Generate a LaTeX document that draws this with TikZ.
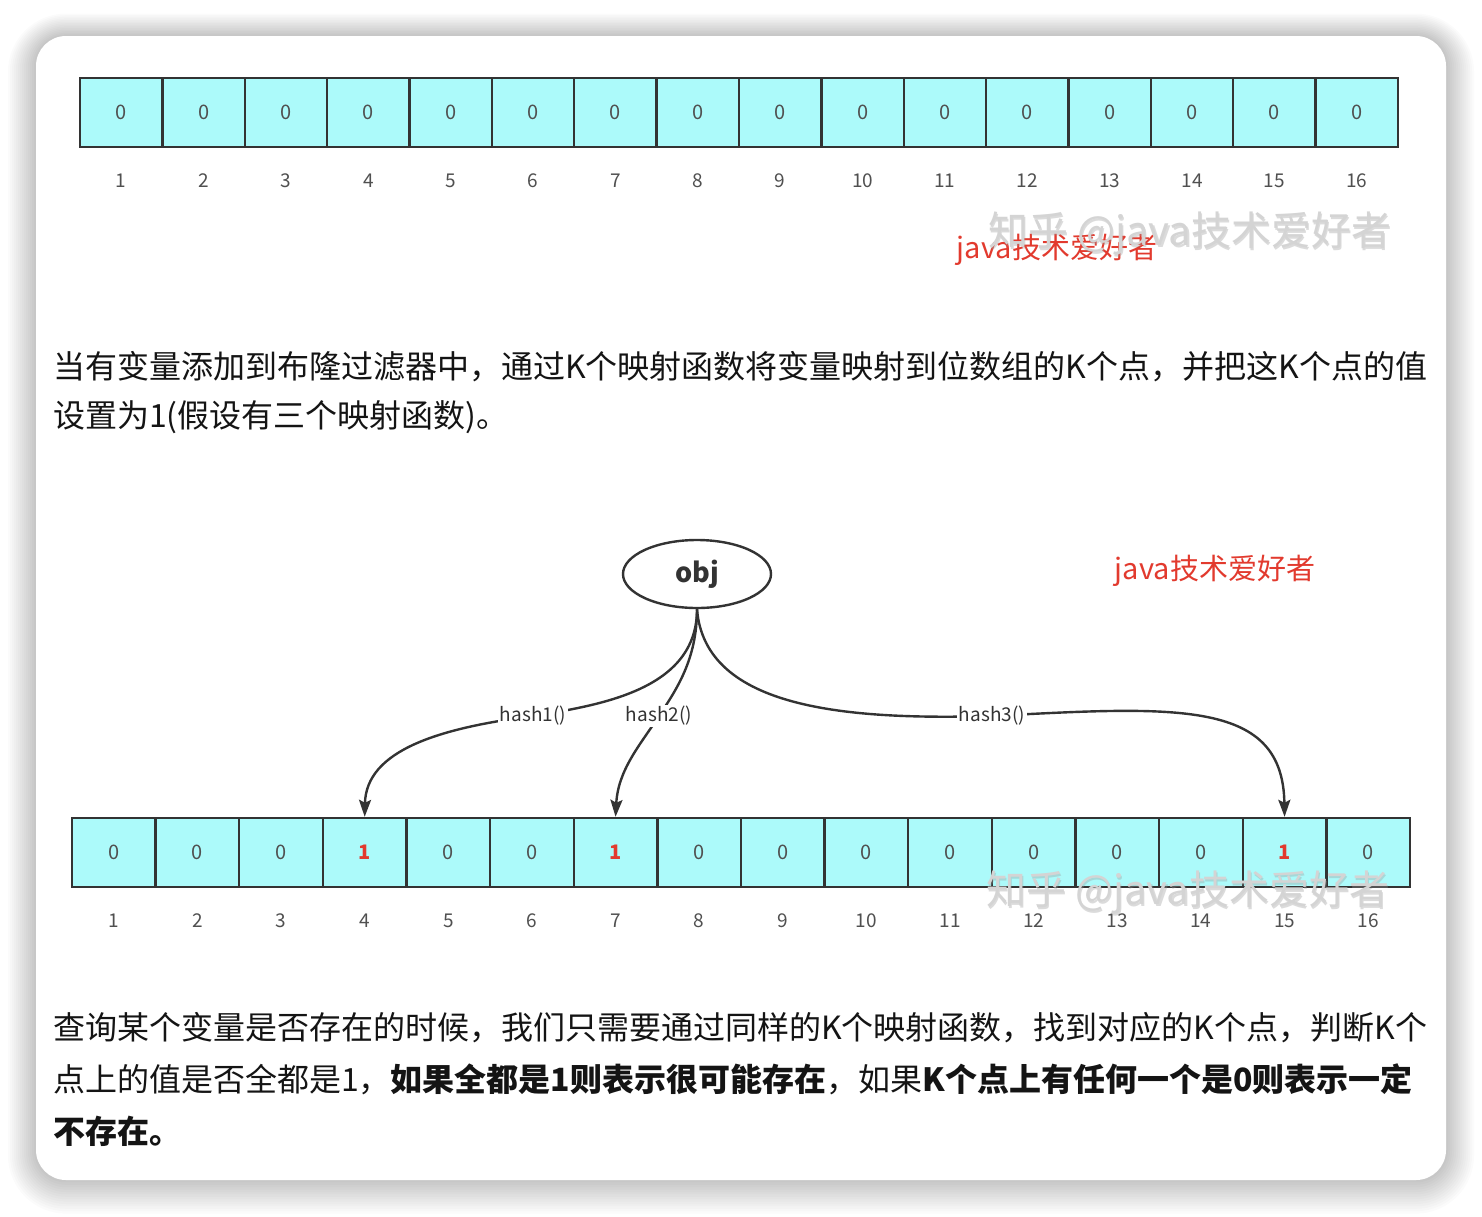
\documentclass[tikz,border=0pt]{standalone}
\usepackage{fontspec}
\setmainfont{Noto Sans CJK SC}
\usetikzlibrary{arrows.meta,shapes.geometric}
\definecolor{cellc}{RGB}{172,250,250}
\definecolor{edgec}{RGB}{51,51,51}
\definecolor{redt}{RGB}{226,58,46}
\definecolor{digitc}{RGB}{80,80,80}
\definecolor{txtc}{RGB}{20,20,20}
\definecolor{wmc}{RGB}{212,212,212}
\tikzset{
  cell/.style={draw=edgec, line width=2.4pt, fill=cellc, minimum height=69pt,
    inner sep=0pt, font=\fontsize{20}{20}\selectfont, text=digitc},
  idx/.style={inner sep=0pt, font=\fontsize{19}{19}\selectfont, text=digitc},
  lbl/.style={fill=white, inner sep=1.5pt, font=\fontsize{19}{19}\selectfont, text=edgec},
  conn/.style={draw=edgec, line width=2.4pt, -{Stealth[length=17pt,width=12pt,inset=3pt]}},
  para/.style={inner sep=0pt, anchor=west, font=\fontsize{32}{32}\selectfont, text=txtc},
  redlbl/.style={inner sep=0pt, font=\fontsize{29}{29}\selectfont, text=redt},
  wm/.style={inner sep=0pt, font=\fontsize{40}{40}\selectfont},
}
\begin{document}
\begin{tikzpicture}[x=1pt,y=-1pt]
\useasboundingbox (0,0) rectangle (1482,1216);
\fill[white] (0,0) rectangle (1482,1216);
% card shadow
\foreach \k in {1,...,14}{
  \pgfmathsetmacro\rr{30+2*\k}
  \fill[black,opacity=0.017,rounded corners=\rr pt]
    ({36-2*\k},{36-1.6*\k}) rectangle ({1446+2*\k},{1180+2.4*\k});
}
\fill[white,rounded corners=30pt] (36,36) rectangle (1446,1180);

% top array
\foreach \i in {1,...,16}{
  \node[cell, minimum width=82.375pt] (t\i) at ({80+82.375*(\i-0.5)},112.5) {0};
  \node[idx] (ti\i) at ({80+82.375*(\i-0.5)},181) {\i};
}
\node[redlbl] (red1) at (1057,250) {java技术爱好者};
\node[wm, text=gray!80, opacity=0.35] (wm1s) at (1191.2,235.2) {知乎 @java技术爱好者};
\node[wm, text=wmc] (wm1) at (1190,234) {知乎 @java技术爱好者};

% paragraph 1
\node[para] (p1a) at (53,367) {当有变量添加到布隆过滤器中，通过K个映射函数将变量映射到位数组的K个点，并把这K个点的值};
\node[para] (p1b) at (53,417) {设置为1(假设有三个映射函数)。};

% obj
\node[ellipse, draw=edgec, line width=2.4pt, fill=white, minimum width=148pt,
  minimum height=68pt, inner sep=0pt, font=\bfseries\fontsize{27}{27}\selectfont,
  text=edgec] (obj) at (697,574) {obj};
\node[redlbl] (red2) at (1215,571) {java技术爱好者};

% bottom array
\foreach \i/\v in {1/0,2/0,3/0,4/1,5/0,6/0,7/1,8/0,9/0,10/0,11/0,12/0,13/0,14/0,15/1,16/0}{
  \node[cell, minimum width=83.625pt] (b\i) at ({72+83.625*(\i-0.5)},852.5)
    {\ifnum\v=1 \textcolor{redt}{\bfseries 1}\else 0\fi};
  \node[idx] (bi\i) at ({72+83.625*(\i-0.5)},921) {\i};
}

% connectors
\coordinate (c1) at (533,716);
\coordinate (c2) at (659,716);
\coordinate (c3) at (992,716);
\draw[conn] (obj.south) .. controls (697,690) and (600,705) .. (c1)
  .. controls (440,728) and (366,750) .. (b4.north);
\draw[conn] (obj.south) .. controls (697,660) and (676,690) .. (c2)
  .. controls (640,745) and (618,770) .. (b7.north);
\draw[conn] (obj.south) .. controls (705,710) and (850,720) .. (c3)
  .. controls (1180,706) and (1283,700) .. (b15.north);
\node[lbl] (l1) at (c1) {hash1()};
\node[lbl] (l2) at (c2) {hash2()};
\node[lbl] (l3) at (c3) {hash3()};

\node[wm, text=gray!80, opacity=0.35] (wm2s) at (1189.2,894.2) {知乎 @java技术爱好者};
\node[wm, text=wmc] (wm2) at (1188,893) {知乎 @java技术爱好者};

% paragraph 2
\node[para] (p2a) at (53,1028) {查询某个变量是否存在的时候，我们只需要通过同样的K个映射函数，找到对应的K个点，判断K个};
\node[para] (p2b) at (53,1079) {点上的值是否全都是1，\textbf{如果全都是1则表示很可能存在}，如果\textbf{K个点上有任何一个是0则表示一定}};
\node[para] (p2c) at (53,1131) {\textbf{不存在。}};
\end{tikzpicture}
\end{document}
